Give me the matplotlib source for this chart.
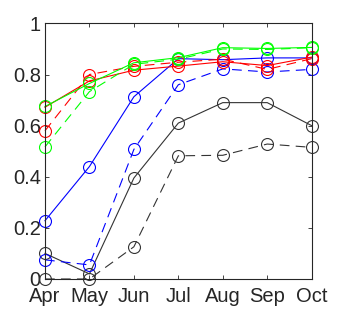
import matplotlib
matplotlib.use("Agg")
import matplotlib.pyplot as plt

plt.rcParams['font.family'] = ['Liberation Sans', 'DejaVu Sans']
plt.rcParams['lines.scale_dashes'] = False

months = ["Apr", "May", "Jun", "Jul", "Aug", "Sep", "Oct"]

black_solid = [0.10, 0.02, 0.395, 0.61, 0.69, 0.69, 0.60]
black_dash = [0.00, 0.00, 0.126, 0.482, 0.484, 0.528, 0.515]
blue_solid = [0.228, 0.44, 0.713, 0.862, 0.858, 0.865, 0.865]
blue_dash = [0.075, 0.055, 0.507, 0.76, 0.822, 0.81, 0.82]
red_solid = [0.672, 0.775, 0.817, 0.833, 0.85, 0.835, 0.868]
red_dash = [0.58, 0.80, 0.832, 0.848, 0.86, 0.82, 0.862]
green_solid = [0.675, 0.765, 0.846, 0.866, 0.905, 0.902, 0.906]
green_dash = [0.517, 0.733, 0.84, 0.86, 0.90, 0.898, 0.905]

GREY = (0.2, 0.2, 0.2)
DASH = (0, (7, 4.5))
series = [
    (black_solid, GREY, "-"),
    (black_dash, GREY, DASH),
    (blue_solid, (0, 0, 1), "-"),
    (blue_dash, (0, 0, 1), DASH),
    (red_solid, (1, 0, 0), "-"),
    (red_dash, (1, 0, 0), DASH),
    (green_solid, (0, 1, 0), "-"),
    (green_dash, (0, 1, 0), DASH),
]

fig = plt.figure(figsize=(3.44, 3.12), dpi=100)
ax = fig.add_axes([0.1308, 0.1058, 0.906 - 0.1308, 0.925 - 0.1058])
x = list(range(len(months)))
for vals, col, ls in series:
    ax.plot(x, vals, color=col, linestyle=ls, lw=0.8, marker="o", ms=8.6,
            mfc="none", mec=col, mew=0.8, clip_on=False)

ax.set_xlim(0, len(months) - 1)
ax.set_ylim(0, 1)
ax.set_xticks(x)
ax.set_xticklabels(months)
ax.set_yticks([0, 0.2, 0.4, 0.6, 0.8, 1])
ax.set_yticklabels(["0", "0.2", "0.4", "0.6", "0.8", "1"])
ax.tick_params(direction="in", length=3, width=0.6, labelsize=14.5,
               top=True, right=True, colors=(0.15, 0.15, 0.15))
ax.tick_params(axis="x", pad=6)
ax.tick_params(axis="y", pad=3)
for s in ax.spines.values():
    s.set_linewidth(0.8)
    s.set_color((0.15, 0.15, 0.15))

fig.savefig("out.png", dpi=100)
